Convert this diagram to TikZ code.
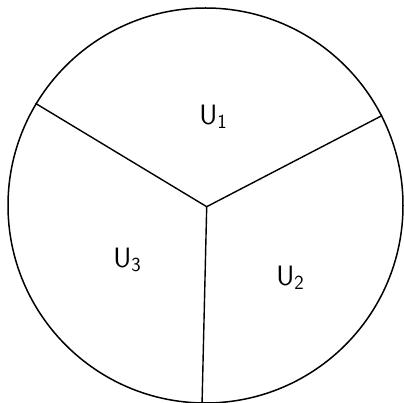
\documentclass[tikz,border=0pt]{standalone}
\usepackage{tikz}
\usetikzlibrary{positioning}
\tikzset{
  diskbox/.style={draw, circle, line width=1.5pt, minimum size=395pt, inner sep=0pt},
  cutline/.style={line width=1.4pt},
  regionlabel/.style={font=\fontsize{28}{32}\selectfont\sffamily, inner sep=0pt},
}
\newcommand{\regsub}[1]{\raisebox{-0.3ex}{\fontsize{20}{24}\selectfont #1}}

\begin{document}
\begin{tikzpicture}[x=1pt,y=-1pt]
  \useasboundingbox (0,0) rectangle (404,403);
  \node[diskbox] (disk) at (205.5,205.5) {};
  \coordinate (mid) at (206.7,206.7);
  \draw[cutline] (disk.149.7) -- (mid);
  \draw[cutline] (disk.27.1) -- (mid);
  \draw[cutline] (disk.269.4) -- (mid);
  \node[regionlabel] (u1) at (213,117) {U\regsub{1}};
  \node[regionlabel] (u3) at (127,260) {U\regsub{3}};
  \node[regionlabel] (u2) at (290,278) {U\regsub{2}};
\end{tikzpicture}
\end{document}
